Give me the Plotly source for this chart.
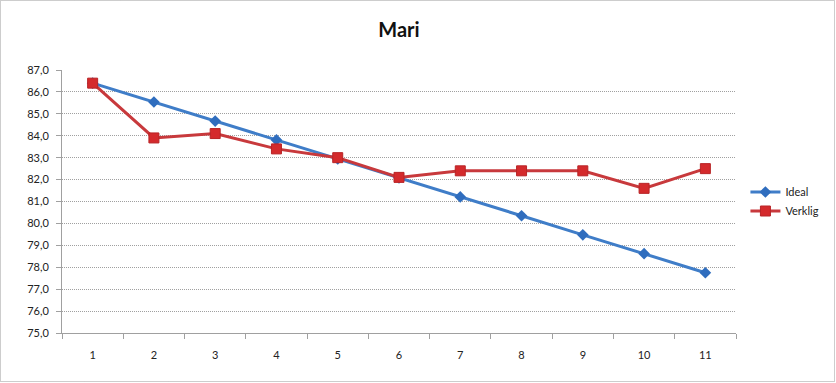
import plotly.graph_objects as go

categories = [1, 2, 3, 4, 5, 6, 7, 8, 9, 10, 11]
ideal = [86.4, 85.54, 84.67, 83.81, 82.94, 82.08, 81.21, 80.35, 79.48, 78.62, 77.75]
verklig = [86.4, 83.9, 84.1, 83.4, 83.0, 82.1, 82.4, 82.4, 82.4, 81.6, 82.5]
y_ticks = [75, 76, 77, 78, 79, 80, 81, 82, 83, 84, 85, 86, 87]

W, H = 836, 383
L, R, T, B = 62, 100, 70, 50
pw, ph = W - L - R, H - T - B

fig = go.Figure()
fig.add_trace(go.Scatter(
    x=categories, y=ideal, name="Ideal", mode="lines+markers",
    line=dict(color="#3F7DC8", width=3),
    marker=dict(symbol="diamond", size=9, color="#2F6DBE", line=dict(color="#2F6DBE", width=0)),
))
fig.add_trace(go.Scatter(
    x=categories, y=verklig, name="Verklig", mode="lines+markers",
    line=dict(color="#C8393C", width=3),
    marker=dict(symbol="square", size=10, color="#D42A2C", line=dict(color="#B82426", width=1)),
))

grid = "#A0A0A0"
fig.update_layout(
    width=W, height=H,
    margin=dict(l=L, r=R, t=T, b=B, autoexpand=False),
    paper_bgcolor="white", plot_bgcolor="white",
    separators=", ",
    font=dict(family="Lato, 'Open Sans', sans-serif", size=11, color="#222222"),
    title=dict(text="<b>Mari</b>", x=0.5, xanchor="center", xref="paper",
               y=1 - 30 / H, yanchor="middle", yref="container",
               font=dict(size=20, color="#111111", family="Lato, 'Open Sans', sans-serif")),
    showlegend=True,
    legend=dict(x=1.014, xanchor="left", y=0.5, yanchor="middle",
                font=dict(size=11), tracegroupgap=2, itemwidth=30,
                bgcolor="rgba(0,0,0,0)"),
    xaxis=dict(
        range=[0.5, 11.5], tickmode="array", tickvals=categories,
        ticktext=[str(c) for c in categories], ticks="", showgrid=False,
        showline=True, linecolor=grid, linewidth=1, zeroline=False,
        ticklabelstandoff=12,
        minor=dict(tickmode="linear", tick0=0.5, dtick=1, ticks="outside",
                   ticklen=5, tickcolor=grid, showgrid=False),
    ),
    yaxis=dict(
        range=[75, 87], tickmode="array", tickvals=y_ticks,
        tickformat=".1f", ticks="outside", ticklen=5, tickcolor=grid,
        ticklabelstandoff=5,
        showgrid=True, gridcolor=grid, griddash="1px,1px", gridwidth=1,
        showline=True, linecolor=grid, linewidth=1, zeroline=False,
    ),
)

# outer chart border (dotted), in pixel terms 0.5..834.5 x 0.5..381.5
bx0, bx1, by0, by1 = 0.5, 834.5, 0.5, 381.5
fig.add_shape(type="rect", xref="paper", yref="paper",
              x0=(bx0 - L) / pw, x1=(bx1 - L) / pw,
              y0=(T + ph - by1) / ph, y1=(T + ph - by0) / ph,
              line=dict(color="#9A9A9A", width=1, dash="1px,1px"), layer="below")

fig.write_html("out.html", config={"displayModeBar": False},
               post_script="document.body.style.margin='0';document.body.style.overflow='hidden';")
